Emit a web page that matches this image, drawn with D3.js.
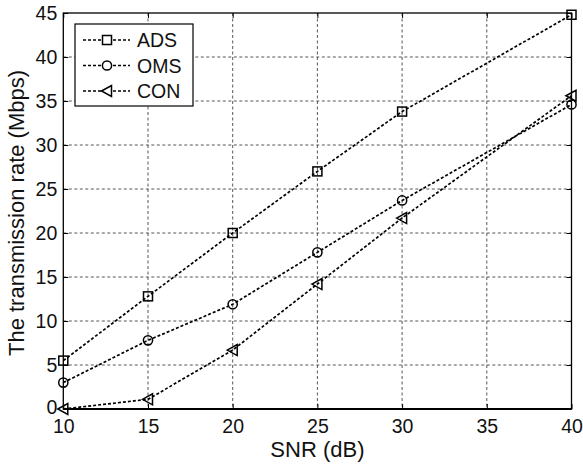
<!DOCTYPE html>
<html><head><meta charset="utf-8">
<script src="https://cdn.jsdelivr.net/npm/d3@7"></script>
<style>
html,body{margin:0;padding:0;background:#fff;}
svg{display:block;font-family:"Liberation Sans",Arial,Helvetica,sans-serif;}
</style>
</head><body>
<svg id="chart" width="583" height="466"></svg>
<script>
const snr = [10, 15, 20, 25, 30, 40];
const ads = [5.5, 12.8, 20.0, 27.0, 33.8, 44.8];
const oms = [3.0, 7.8, 11.9, 17.8, 23.7, 34.6];
const con = [0.0, 1.1, 6.7, 14.2, 21.7, 35.6];
const seriesNames = ["ADS", "OMS", "CON"];
const markerTypes = ["square", "circle", "triangle"];
const xTicks = [10, 15, 20, 25, 30, 35, 40];
const yTicks = [0, 5, 10, 15, 20, 25, 30, 35, 40, 45];

const series = [ads, oms, con].map((vals, i) => ({
  name: seriesNames[i], marker: markerTypes[i],
  pts: snr.map((x, j) => ({x, y: vals[j]}))
}));

const svg = d3.select("#chart");
const L = 63.3, R = 571.5, T = 13, B = 409;
const x = d3.scaleLinear().domain([10, 40]).range([L, R]);
const y = d3.scaleLinear().domain([0, 45]).range([B, T]);

// grid
const grid = svg.append("g").attr("stroke", "#444").attr("stroke-width", 0.9).attr("stroke-dasharray", "3,2.5");
grid.selectAll(".gx").data(xTicks.slice(1, -1)).join("line")
  .attr("x1", d => x(d)).attr("x2", d => x(d)).attr("y1", T).attr("y2", B);
grid.selectAll(".gy").data(yTicks.slice(1, -1)).join("line")
  .attr("y1", d => y(d)).attr("y2", d => y(d)).attr("x1", L).attr("x2", R);

// axes
const fs = 19.5;
const xAxis = svg.append("g").attr("transform", `translate(0,${B})`)
  .call(d3.axisBottom(x).tickValues(xTicks).tickSize(-5).tickPadding(10).tickFormat(d3.format("d")));
const yAxis = svg.append("g").attr("transform", `translate(${L},0)`)
  .call(d3.axisLeft(y).tickValues(yTicks).tickSize(-5).tickPadding(6).tickFormat(d3.format("d")));
[xAxis, yAxis].forEach(a => {
  a.select(".domain").remove();
  a.selectAll("text").attr("font-size", fs).attr("font-family", "Liberation Sans, Arial, sans-serif").attr("fill", "#111");
  a.selectAll("line").attr("stroke", "#000");
});
xAxis.selectAll("text").attr("dy", "0.71em");
yAxis.selectAll("text").filter(d => d === 0).attr("dy", "0.25em");
// top/right ticks
const tAxis = svg.append("g").attr("transform", `translate(0,${T})`)
  .call(d3.axisTop(x).tickValues(xTicks).tickSize(-5).tickFormat(""));
const rAxis = svg.append("g").attr("transform", `translate(${R},0)`)
  .call(d3.axisRight(y).tickValues(yTicks).tickSize(-5).tickFormat(""));
[tAxis, rAxis].forEach(a => { a.select(".domain").remove(); a.selectAll("line").attr("stroke", "#000"); });

// frame
svg.append("rect").attr("x", L).attr("y", T).attr("width", R - L).attr("height", B - T)
  .attr("fill", "none").attr("stroke", "#000").attr("stroke-width", 1.3);
svg.append("line").attr("x1", L).attr("x2", R).attr("y1", B).attr("y2", B).attr("stroke", "#000").attr("stroke-width", 2);

// labels
svg.append("text").attr("x", (L + R) / 2).attr("y", 457).attr("text-anchor", "middle")
  .attr("font-size", 22).attr("fill", "#111").text("SNR (dB)");
svg.append("text").attr("transform", `translate(24,${(T + B) / 2 + 2}) rotate(-90)`).attr("text-anchor", "middle")
  .attr("font-size", 22).attr("fill", "#111").text("The transmission rate (Mbps)");

// markers
function drawMarker(g, type, cx, cy) {
  if (type === "square") {
    g.append("rect").attr("x", cx - 4.5).attr("y", cy - 4.5).attr("width", 9).attr("height", 9);
  } else if (type === "circle") {
    g.append("circle").attr("cx", cx).attr("cy", cy).attr("r", 4.6);
  } else {
    g.append("path").attr("d", `M${cx - 5.5},${cy} L${cx + 4.5},${cy - 5.5} L${cx + 4.5},${cy + 5.5} Z`);
  }
}

const line = d3.line().x(d => x(d.x)).y(d => y(d.y));
series.forEach(s => {
  svg.append("path").datum(s.pts).attr("d", line).attr("fill", "none")
    .attr("stroke", "#000").attr("stroke-width", 1.7).attr("stroke-dasharray", "3,2");
  const mg = svg.append("g").attr("fill", "none").attr("stroke", "#000").attr("stroke-width", 1.5);
  s.pts.forEach(p => drawMarker(mg, s.marker, x(p.x), y(p.y)));
});

// legend
const lg = svg.append("g");
lg.append("rect").attr("x", 75).attr("y", 24).attr("width", 118).attr("height", 82)
  .attr("fill", "#fff").attr("stroke", "#000").attr("stroke-width", 1.2);
series.forEach((s, i) => {
  const ly = 40 + i * 25.5;
  lg.append("line").attr("x1", 83).attr("x2", 130).attr("y1", ly).attr("y2", ly)
    .attr("stroke", "#000").attr("stroke-width", 1.7).attr("stroke-dasharray", "3,2");
  const mg = lg.append("g").attr("fill", "#fff").attr("stroke", "#000").attr("stroke-width", 1.5);
  drawMarker(mg, s.marker, 107, ly);
  lg.append("text").attr("x", 137).attr("y", ly).attr("dy", "0.36em").attr("font-size", 19.5)
    .attr("fill", "#111").text(s.name);
});
</script>
</body></html>
